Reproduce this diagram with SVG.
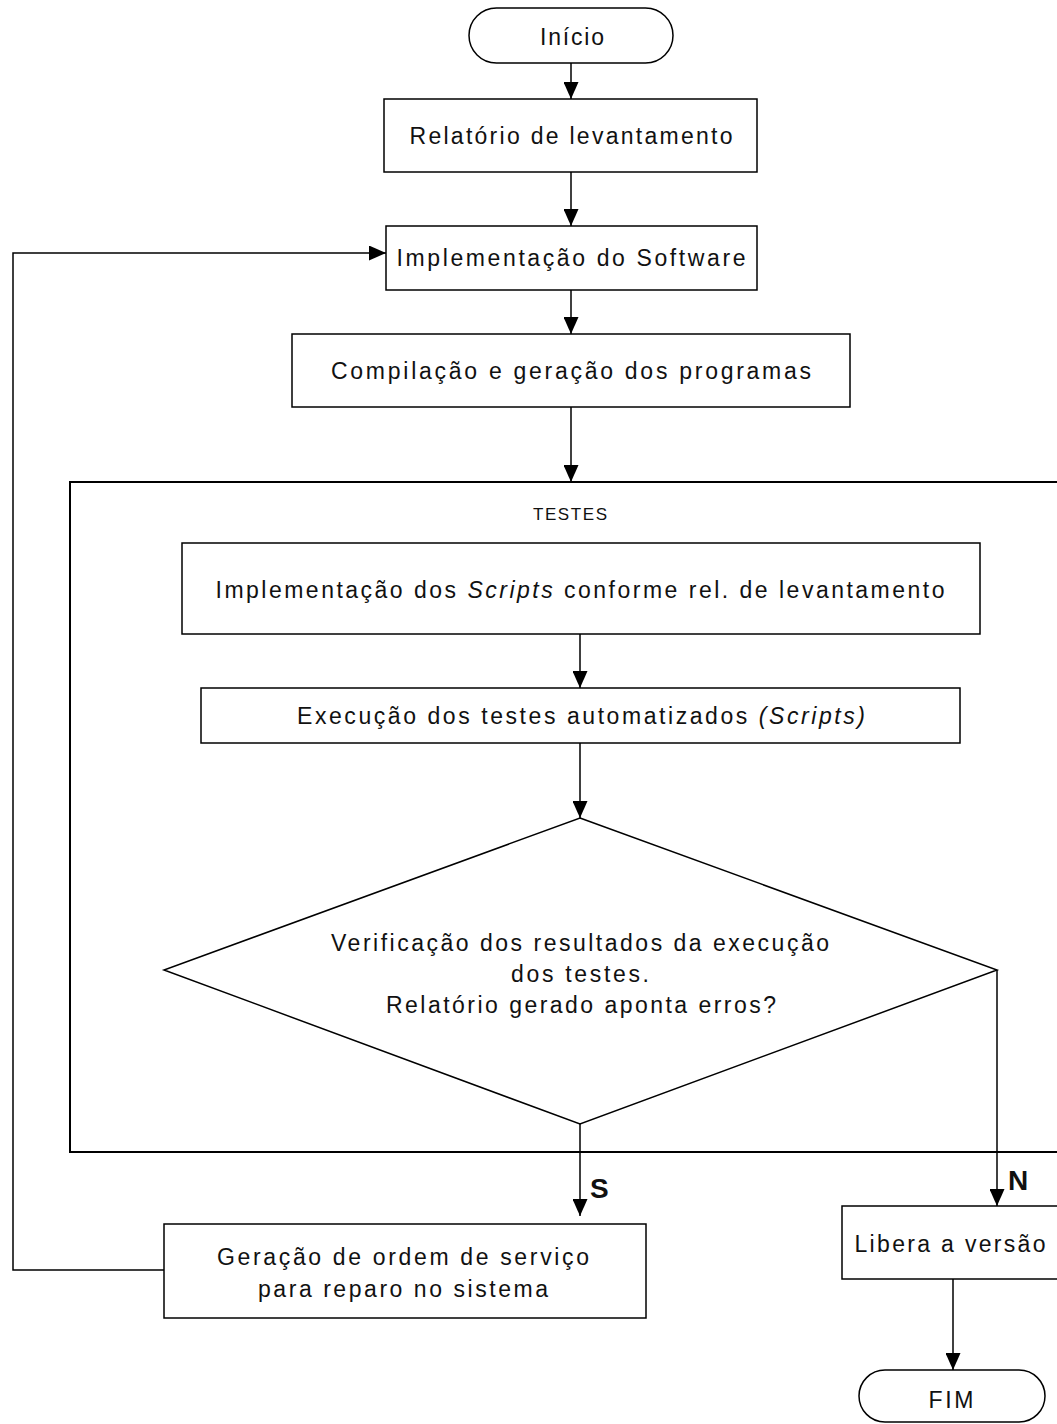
<svg xmlns="http://www.w3.org/2000/svg" width="1057" height="1424" viewBox="0 0 1057 1424">
<style>
.shape{fill:#fff;stroke:#000;stroke-width:1.5}
.frame{fill:none;stroke:#000;stroke-width:2}
.conn{fill:none;stroke:#000;stroke-width:1.5}
text{font-family:"Liberation Sans",Arial,sans-serif;font-size:23px;fill:#111;text-anchor:middle}
.small{font-size:17px}
.lbl{font-size:28px;font-weight:bold;text-anchor:start}
</style>
<defs>
<marker id="arr" markerUnits="userSpaceOnUse" markerWidth="17" markerHeight="15" refX="17" refY="7.5" orient="auto">
<path d="M0,0 L17,7.5 L0,15 z" fill="#000"/>
</marker>
</defs>
<rect width="1057" height="1424" fill="#fff"/>

<g id="testes">
<rect class="frame" x="70" y="482" width="1000" height="670"/>
<text class="small" x="570" y="520" textLength="74" lengthAdjust="spacing">TESTES</text>
</g>

<g id="inicio">
<rect class="shape" x="469" y="8" width="204" height="55" rx="27.5"/>
<text x="572" y="45" textLength="64" lengthAdjust="spacing">Início</text>
</g>

<g id="relatorio">
<rect class="shape" x="384" y="99" width="373" height="73"/>
<text x="571" y="144" textLength="323" lengthAdjust="spacing">Relatório de levantamento</text>
</g>

<g id="implementacao">
<rect class="shape" x="386" y="226" width="371" height="64"/>
<text x="571" y="266" textLength="349" lengthAdjust="spacing">Implementação do Software</text>
</g>

<g id="compilacao">
<rect class="shape" x="292" y="334" width="558" height="73"/>
<text x="571" y="379" textLength="480" lengthAdjust="spacing">Compilação e geração dos programas</text>
</g>

<g id="scripts">
<rect class="shape" x="182" y="543" width="798" height="91"/>
<text x="580" y="598" textLength="729" lengthAdjust="spacing">Implementação dos <tspan font-style="italic">Scripts</tspan> conforme rel. de levantamento</text>
</g>

<g id="execucao">
<rect class="shape" x="201" y="688" width="759" height="55"/>
<text x="581" y="724" textLength="568" lengthAdjust="spacing">Execução dos testes automatizados <tspan font-style="italic">(Scripts)</tspan></text>
</g>

<g id="verificacao">
<polygon class="shape" points="580,818 997,970 580,1124 164,970"/>
<text x="580" y="951" textLength="498" lengthAdjust="spacing">Verificação dos resultados da execução</text>
<text x="580" y="982" textLength="138" lengthAdjust="spacing">dos testes.</text>
<text x="581" y="1013" textLength="390" lengthAdjust="spacing">Relatório gerado aponta erros?</text>
</g>

<g id="ordem">
<rect class="shape" x="164" y="1224" width="482" height="94"/>
<text x="403" y="1265" textLength="372" lengthAdjust="spacing">Geração de ordem de serviço</text>
<text x="403" y="1297" textLength="290" lengthAdjust="spacing">para reparo no sistema</text>
</g>

<g id="libera">
<rect class="shape" x="842" y="1206" width="230" height="73"/>
<text x="950" y="1252" textLength="191" lengthAdjust="spacing">Libera a versão</text>
</g>

<g id="fim">
<rect class="shape" x="859" y="1370" width="186" height="52" rx="26"/>
<text x="951" y="1408" textLength="45" lengthAdjust="spacing">FIM</text>
</g>

<g id="connectors">
<line class="conn" x1="571" y1="63" x2="571" y2="99" marker-end="url(#arr)"/>
<line class="conn" x1="571" y1="172" x2="571" y2="226" marker-end="url(#arr)"/>
<line class="conn" x1="571" y1="290" x2="571" y2="334" marker-end="url(#arr)"/>
<line class="conn" x1="571" y1="407" x2="571" y2="482" marker-end="url(#arr)"/>
<line class="conn" x1="580" y1="634" x2="580" y2="688" marker-end="url(#arr)"/>
<line class="conn" x1="580" y1="743" x2="580" y2="818" marker-end="url(#arr)"/>
<line class="conn" x1="580" y1="1124" x2="580" y2="1216" marker-end="url(#arr)"/>
<line class="conn" x1="997" y1="970" x2="997" y2="1206" marker-end="url(#arr)"/>
<line class="conn" x1="953" y1="1279" x2="953" y2="1370" marker-end="url(#arr)"/>
<polyline class="conn" points="164,1270 13,1270 13,253 386,253" marker-end="url(#arr)"/>
<text class="lbl" x="590" y="1198">S</text>
<text class="lbl" x="1008" y="1190">N</text>
</g>
</svg>
